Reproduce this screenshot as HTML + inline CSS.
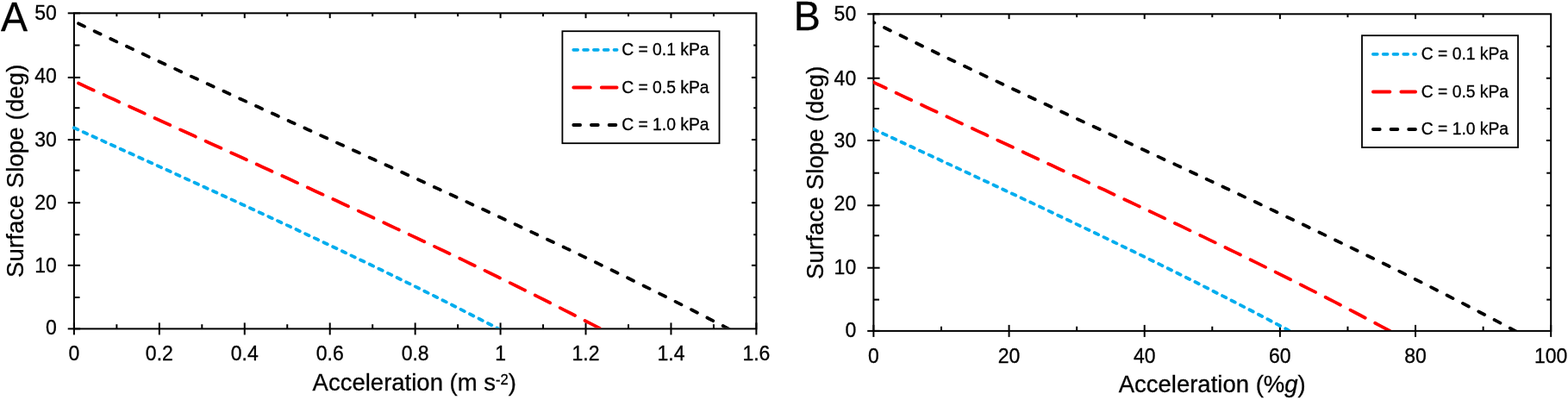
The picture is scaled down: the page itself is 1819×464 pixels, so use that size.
<!DOCTYPE html>
<html><head><meta charset="utf-8"><title>Surface slope vs acceleration</title>
<style>html,body{margin:0;padding:0;background:#fff;}body{width:1819px;height:464px;overflow:hidden;}svg{display:block;}</style>
</head><body>
<svg width="1819" height="464" viewBox="0 0 1819 464" font-family='"Liberation Sans", Arial, Helvetica, sans-serif' fill="#000" stroke="#000" stroke-width="0.3">
<rect width="1819" height="464" fill="#fff" stroke="none"/>
<g stroke="#000" stroke-width="2.0" fill="none">
<rect x="85.9" y="15.3" width="791.5" height="366.09999999999997"/>
<line x1="78.7" y1="381.40" x2="93.10000000000001" y2="381.40"/>
<line x1="85.9" y1="345.00" x2="92.5" y2="345.00"/>
<line x1="874.1999999999999" y1="345.00" x2="877.4" y2="345.00"/>
<line x1="78.7" y1="307.80" x2="93.10000000000001" y2="307.80"/>
<line x1="871.9" y1="307.80" x2="877.4" y2="307.80"/>
<line x1="85.9" y1="272.20" x2="92.5" y2="272.20"/>
<line x1="874.1999999999999" y1="272.20" x2="877.4" y2="272.20"/>
<line x1="78.7" y1="235.20" x2="93.10000000000001" y2="235.20"/>
<line x1="871.9" y1="235.20" x2="877.4" y2="235.20"/>
<line x1="85.9" y1="197.60" x2="92.5" y2="197.60"/>
<line x1="874.1999999999999" y1="197.60" x2="877.4" y2="197.60"/>
<line x1="78.7" y1="162.10" x2="93.10000000000001" y2="162.10"/>
<line x1="871.9" y1="162.10" x2="877.4" y2="162.10"/>
<line x1="85.9" y1="125.20" x2="92.5" y2="125.20"/>
<line x1="874.1999999999999" y1="125.20" x2="877.4" y2="125.20"/>
<line x1="78.7" y1="89.90" x2="93.10000000000001" y2="89.90"/>
<line x1="871.9" y1="89.90" x2="877.4" y2="89.90"/>
<line x1="85.9" y1="52.50" x2="92.5" y2="52.50"/>
<line x1="874.1999999999999" y1="52.50" x2="877.4" y2="52.50"/>
<line x1="78.7" y1="15.30" x2="93.10000000000001" y2="15.30"/>
<line x1="85.90" y1="374.4" x2="85.90" y2="388.4"/>
<line x1="135.37" y1="376.2" x2="135.37" y2="381.4"/>
<line x1="135.37" y1="15.3" x2="135.37" y2="19.1"/>
<line x1="184.84" y1="374.4" x2="184.84" y2="388.4"/>
<line x1="184.84" y1="15.3" x2="184.84" y2="21.1"/>
<line x1="234.31" y1="376.2" x2="234.31" y2="381.4"/>
<line x1="234.31" y1="15.3" x2="234.31" y2="19.1"/>
<line x1="283.77" y1="374.4" x2="283.77" y2="388.4"/>
<line x1="283.77" y1="15.3" x2="283.77" y2="21.1"/>
<line x1="333.24" y1="376.2" x2="333.24" y2="381.4"/>
<line x1="333.24" y1="15.3" x2="333.24" y2="19.1"/>
<line x1="382.71" y1="374.4" x2="382.71" y2="388.4"/>
<line x1="382.71" y1="15.3" x2="382.71" y2="21.1"/>
<line x1="432.18" y1="376.2" x2="432.18" y2="381.4"/>
<line x1="432.18" y1="15.3" x2="432.18" y2="19.1"/>
<line x1="481.65" y1="374.4" x2="481.65" y2="388.4"/>
<line x1="481.65" y1="15.3" x2="481.65" y2="21.1"/>
<line x1="531.12" y1="376.2" x2="531.12" y2="381.4"/>
<line x1="531.12" y1="15.3" x2="531.12" y2="19.1"/>
<line x1="580.59" y1="374.4" x2="580.59" y2="388.4"/>
<line x1="580.59" y1="15.3" x2="580.59" y2="21.1"/>
<line x1="630.06" y1="376.2" x2="630.06" y2="381.4"/>
<line x1="630.06" y1="15.3" x2="630.06" y2="19.1"/>
<line x1="679.53" y1="374.4" x2="679.53" y2="388.4"/>
<line x1="679.53" y1="15.3" x2="679.53" y2="21.1"/>
<line x1="728.99" y1="376.2" x2="728.99" y2="381.4"/>
<line x1="728.99" y1="15.3" x2="728.99" y2="19.1"/>
<line x1="778.46" y1="374.4" x2="778.46" y2="388.4"/>
<line x1="778.46" y1="15.3" x2="778.46" y2="21.1"/>
<line x1="827.93" y1="376.2" x2="827.93" y2="381.4"/>
<line x1="827.93" y1="15.3" x2="827.93" y2="19.1"/>
<line x1="877.40" y1="374.4" x2="877.40" y2="388.4"/>
</g>
<clipPath id="clipA"><rect x="83.9" y="15.3" width="793.5" height="365.2"/></clipPath>
<g clip-path="url(#clipA)" fill="none" stroke-linecap="round" stroke-linejoin="round">
<path d="M85.9 148.3 L92.2 151.1 L98.5 154.0 L104.7 156.8 L111.0 159.7 L117.3 162.5 L123.6 165.4 L129.8 168.2 L136.1 171.1 L142.4 173.9 L148.7 176.8 L155.0 179.6 L161.2 182.5 L167.5 185.3 L173.8 188.2 L180.1 191.0 L186.3 193.9 L192.6 196.7 L198.9 199.6 L205.2 202.4 L211.4 205.3 L217.7 208.2 L224.0 211.0 L230.3 213.9 L236.6 216.8 L242.8 219.6 L249.1 222.5 L255.4 225.4 L261.7 228.3 L267.9 231.1 L274.2 234.0 L280.5 236.9 L286.8 239.8 L293.1 242.7 L299.3 245.6 L305.6 248.5 L311.9 251.4 L318.2 254.3 L324.4 257.3 L330.7 260.2 L337.0 263.1 L343.3 266.0 L349.5 269.0 L355.8 271.9 L362.1 274.9 L368.4 277.8 L374.7 280.8 L380.9 283.8 L387.2 286.7 L393.5 289.7 L399.8 292.7 L406.0 295.7 L412.3 298.7 L418.6 301.7 L424.9 304.7 L431.2 307.7 L437.4 310.8 L443.7 313.8 L450.0 316.9 L456.3 319.9 L462.5 323.0 L468.8 326.1 L475.1 329.1 L481.4 332.2 L487.6 335.3 L493.9 338.5 L500.2 341.6 L506.5 344.7 L512.8 347.9 L519.0 351.0 L525.3 354.2 L531.6 357.4 L537.9 360.6 L544.1 363.8 L550.4 367.0 L556.7 370.2 L563.0 373.5 L569.3 376.7 L575.5 380.0 L581.8 383.3 L588.1 386.6" stroke="#00ADEE" stroke-width="3.8" stroke-dasharray="4.85 6.95" stroke-dashoffset="0"/>
<path d="M85.9 94.2 L93.7 97.8 L101.5 101.4 L109.3 104.9 L117.1 108.5 L124.8 112.1 L132.6 115.6 L140.4 119.2 L148.2 122.7 L156.0 126.3 L163.8 129.8 L171.6 133.4 L179.4 136.9 L187.2 140.4 L195.0 144.0 L202.7 147.5 L210.5 151.0 L218.3 154.6 L226.1 158.1 L233.9 161.6 L241.7 165.2 L249.5 168.7 L257.3 172.2 L265.1 175.8 L272.8 179.3 L280.6 182.8 L288.4 186.4 L296.2 189.9 L304.0 193.4 L311.8 197.0 L319.6 200.5 L327.4 204.1 L335.2 207.6 L343.0 211.2 L350.7 214.7 L358.5 218.3 L366.3 221.9 L374.1 225.4 L381.9 229.0 L389.7 232.6 L397.5 236.2 L405.3 239.8 L413.1 243.4 L420.8 247.0 L428.6 250.6 L436.4 254.2 L444.2 257.8 L452.0 261.4 L459.8 265.1 L467.6 268.7 L475.4 272.4 L483.2 276.0 L491.0 279.7 L498.7 283.4 L506.5 287.1 L514.3 290.8 L522.1 294.5 L529.9 298.2 L537.7 301.9 L545.5 305.7 L553.3 309.4 L561.1 313.2 L568.9 317.0 L576.6 320.8 L584.4 324.6 L592.2 328.4 L600.0 332.3 L607.8 336.1 L615.6 340.0 L623.4 343.9 L631.2 347.8 L639.0 351.7 L646.7 355.6 L654.5 359.6 L662.3 363.5 L670.1 367.5 L677.9 371.6 L685.7 375.6 L693.5 379.6 L701.3 383.7 L709.1 387.8" stroke="#FF0000" stroke-width="3.8" stroke-dasharray="19.50 12.95" stroke-dashoffset="26.85"/>
<path d="M85.9 24.9 L95.6 29.5 L105.3 34.1 L114.9 38.7 L124.6 43.3 L134.3 47.9 L144.0 52.4 L153.7 56.9 L163.3 61.5 L173.0 66.0 L182.7 70.5 L192.4 75.0 L202.1 79.4 L211.7 83.9 L221.4 88.4 L231.1 92.8 L240.8 97.3 L250.5 101.7 L260.1 106.1 L269.8 110.6 L279.5 115.0 L289.2 119.4 L298.9 123.8 L308.5 128.2 L318.2 132.6 L327.9 137.0 L337.6 141.4 L347.3 145.8 L356.9 150.2 L366.6 154.6 L376.3 159.0 L386.0 163.4 L395.7 167.7 L405.3 172.1 L415.0 176.5 L424.7 180.9 L434.4 185.3 L444.1 189.7 L453.7 194.1 L463.4 198.5 L473.1 202.9 L482.8 207.3 L492.5 211.7 L502.1 216.2 L511.8 220.6 L521.5 225.0 L531.2 229.5 L540.9 233.9 L550.5 238.4 L560.2 242.8 L569.9 247.3 L579.6 251.8 L589.2 256.3 L598.9 260.8 L608.6 265.3 L618.3 269.9 L628.0 274.4 L637.6 279.0 L647.3 283.5 L657.0 288.1 L666.7 292.7 L676.4 297.4 L686.0 302.0 L695.7 306.6 L705.4 311.3 L715.1 316.0 L724.8 320.7 L734.4 325.5 L744.1 330.2 L753.8 335.0 L763.5 339.8 L773.2 344.6 L782.8 349.5 L792.5 354.4 L802.2 359.3 L811.9 364.2 L821.6 369.2 L831.2 374.2 L840.9 379.2 L850.6 384.3 L860.3 389.4" stroke="#000000" stroke-width="3.8" stroke-dasharray="7.80 12.85" stroke-dashoffset="15.05"/>
</g>
<text transform="translate(65.80,387.80) scale(1,1.0)" font-size="23.0" text-anchor="end" >0</text>
<text transform="translate(65.80,315.50) scale(1,1.0)" font-size="23.0" text-anchor="end" >10</text>
<text transform="translate(65.80,242.95) scale(1,1.0)" font-size="23.0" text-anchor="end" >20</text>
<text transform="translate(65.80,170.35) scale(1,1.0)" font-size="23.0" text-anchor="end" >30</text>
<text transform="translate(65.80,95.50) scale(1,1.0)" font-size="23.0" text-anchor="end" >40</text>
<text transform="translate(65.80,22.50) scale(1,1.0)" font-size="23.0" text-anchor="end" >50</text>
<text transform="translate(85.90,417.70) scale(1,1.0)" font-size="23.0" text-anchor="middle" >0</text>
<text transform="translate(184.84,417.70) scale(1,1.0)" font-size="23.0" text-anchor="middle" >0.2</text>
<text transform="translate(283.77,417.70) scale(1,1.0)" font-size="23.0" text-anchor="middle" >0.4</text>
<text transform="translate(382.71,417.70) scale(1,1.0)" font-size="23.0" text-anchor="middle" >0.6</text>
<text transform="translate(481.65,417.70) scale(1,1.0)" font-size="23.0" text-anchor="middle" >0.8</text>
<text transform="translate(580.59,417.70) scale(1,1.0)" font-size="23.0" text-anchor="middle" >1</text>
<text transform="translate(679.53,417.70) scale(1,1.0)" font-size="23.0" text-anchor="middle" >1.2</text>
<text transform="translate(778.46,417.70) scale(1,1.0)" font-size="23.0" text-anchor="middle" >1.4</text>
<text transform="translate(877.40,417.70) scale(1,1.0)" font-size="23.0" text-anchor="middle" >1.6</text>
<text transform="translate(1.00,35.70) scale(1,1.04)" font-size="46.5" text-anchor="start" >A</text>
<text transform="translate(27.20,198.30) rotate(-90) scale(1,1.0)" font-size="27.5" text-anchor="middle" textLength="247.5" lengthAdjust="spacing">Surface Slope (deg)</text>
<text transform="translate(480.80,453.40) scale(1,1.0)" font-size="27.5" text-anchor="middle" >Acceleration (m s<tspan font-size="16.6" dy="-7.4">-2</tspan><tspan dy="7.4">)</tspan></text>
<rect x="652.4" y="36.2" width="182.10000000000002" height="130.0" fill="#fff" stroke="#000" stroke-width="1.8"/>
<line x1="665.30" y1="57.8" x2="715.60" y2="57.8" stroke="#00ADEE" stroke-width="3.8" stroke-dasharray="4.85 6.95" stroke-linecap="round" fill="none"/>
<text transform="translate(721.20,64.20) scale(1,1.04)" font-size="19.3" text-anchor="start" >C = 0.1 kPa</text>
<line x1="665.30" y1="101.5" x2="715.60" y2="101.5" stroke="#FF0000" stroke-width="3.8" stroke-dasharray="19.50 12.95" stroke-linecap="round" fill="none"/>
<text transform="translate(721.20,107.90) scale(1,1.04)" font-size="19.3" text-anchor="start" >C = 0.5 kPa</text>
<line x1="665.30" y1="145" x2="715.60" y2="145" stroke="#000000" stroke-width="3.8" stroke-dasharray="7.80 12.85" stroke-linecap="round" fill="none"/>
<text transform="translate(721.20,151.40) scale(1,1.04)" font-size="19.3" text-anchor="start" >C = 1.0 kPa</text>
<g stroke="#000" stroke-width="2.0" fill="none">
<rect x="1013.4" y="16.3" width="785.8000000000001" height="367.59999999999997"/>
<line x1="1006.1999999999999" y1="383.90" x2="1020.6" y2="383.90"/>
<line x1="1013.4" y1="347.60" x2="1020.0" y2="347.60"/>
<line x1="1794.2" y1="347.60" x2="1799.2" y2="347.60"/>
<line x1="1006.1999999999999" y1="310.70" x2="1020.6" y2="310.70"/>
<line x1="1793.8" y1="310.70" x2="1799.2" y2="310.70"/>
<line x1="1013.4" y1="273.30" x2="1020.0" y2="273.30"/>
<line x1="1794.2" y1="273.30" x2="1799.2" y2="273.30"/>
<line x1="1006.1999999999999" y1="238.30" x2="1020.6" y2="238.30"/>
<line x1="1793.8" y1="238.30" x2="1799.2" y2="238.30"/>
<line x1="1013.4" y1="200.70" x2="1020.0" y2="200.70"/>
<line x1="1794.2" y1="200.70" x2="1799.2" y2="200.70"/>
<line x1="1006.1999999999999" y1="162.90" x2="1020.6" y2="162.90"/>
<line x1="1793.8" y1="162.90" x2="1799.2" y2="162.90"/>
<line x1="1013.4" y1="126.00" x2="1020.0" y2="126.00"/>
<line x1="1794.2" y1="126.00" x2="1799.2" y2="126.00"/>
<line x1="1006.1999999999999" y1="90.70" x2="1020.6" y2="90.70"/>
<line x1="1793.8" y1="90.70" x2="1799.2" y2="90.70"/>
<line x1="1013.4" y1="53.80" x2="1020.0" y2="53.80"/>
<line x1="1794.2" y1="53.80" x2="1799.2" y2="53.80"/>
<line x1="1006.1999999999999" y1="16.30" x2="1020.6" y2="16.30"/>
<line x1="1013.40" y1="376.9" x2="1013.40" y2="390.9"/>
<line x1="1091.98" y1="378.7" x2="1091.98" y2="383.9"/>
<line x1="1091.98" y1="16.3" x2="1091.98" y2="20.1"/>
<line x1="1170.56" y1="376.9" x2="1170.56" y2="390.9"/>
<line x1="1170.56" y1="16.3" x2="1170.56" y2="22.1"/>
<line x1="1249.14" y1="378.7" x2="1249.14" y2="383.9"/>
<line x1="1249.14" y1="16.3" x2="1249.14" y2="20.1"/>
<line x1="1327.72" y1="376.9" x2="1327.72" y2="390.9"/>
<line x1="1327.72" y1="16.3" x2="1327.72" y2="22.1"/>
<line x1="1406.30" y1="378.7" x2="1406.30" y2="383.9"/>
<line x1="1406.30" y1="16.3" x2="1406.30" y2="20.1"/>
<line x1="1484.88" y1="376.9" x2="1484.88" y2="390.9"/>
<line x1="1484.88" y1="16.3" x2="1484.88" y2="22.1"/>
<line x1="1563.46" y1="378.7" x2="1563.46" y2="383.9"/>
<line x1="1563.46" y1="16.3" x2="1563.46" y2="20.1"/>
<line x1="1642.04" y1="376.9" x2="1642.04" y2="390.9"/>
<line x1="1642.04" y1="16.3" x2="1642.04" y2="22.1"/>
<line x1="1720.62" y1="378.7" x2="1720.62" y2="383.9"/>
<line x1="1720.62" y1="16.3" x2="1720.62" y2="20.1"/>
<line x1="1799.20" y1="376.9" x2="1799.20" y2="390.9"/>
</g>
<clipPath id="clipB"><rect x="1012.9" y="16.3" width="786.3000000000001" height="366.7"/></clipPath>
<g clip-path="url(#clipB)" fill="none" stroke-linecap="round" stroke-linejoin="round">
<path d="M1013.4 149.8 L1019.6 152.7 L1025.7 155.6 L1031.9 158.4 L1038.0 161.3 L1044.2 164.1 L1050.3 167.0 L1056.5 169.8 L1062.6 172.7 L1068.8 175.6 L1075.0 178.4 L1081.1 181.3 L1087.3 184.1 L1093.4 187.0 L1099.6 189.9 L1105.7 192.7 L1111.9 195.6 L1118.0 198.5 L1124.2 201.3 L1130.3 204.2 L1136.5 207.1 L1142.7 209.9 L1148.8 212.8 L1155.0 215.7 L1161.1 218.6 L1167.3 221.5 L1173.4 224.4 L1179.6 227.2 L1185.7 230.1 L1191.9 233.0 L1198.1 235.9 L1204.2 238.8 L1210.4 241.7 L1216.5 244.6 L1222.7 247.6 L1228.8 250.5 L1235.0 253.4 L1241.1 256.3 L1247.3 259.3 L1253.5 262.2 L1259.6 265.1 L1265.8 268.1 L1271.9 271.0 L1278.1 274.0 L1284.2 276.9 L1290.4 279.9 L1296.5 282.9 L1302.7 285.9 L1308.8 288.9 L1315.0 291.8 L1321.2 294.8 L1327.3 297.8 L1333.5 300.9 L1339.6 303.9 L1345.8 306.9 L1351.9 309.9 L1358.1 313.0 L1364.2 316.0 L1370.4 319.1 L1376.6 322.2 L1382.7 325.2 L1388.9 328.3 L1395.0 331.4 L1401.2 334.5 L1407.3 337.7 L1413.5 340.8 L1419.6 343.9 L1425.8 347.1 L1431.9 350.2 L1438.1 353.4 L1444.3 356.6 L1450.4 359.8 L1456.6 363.0 L1462.7 366.2 L1468.9 369.4 L1475.0 372.7 L1481.2 375.9 L1487.3 379.2 L1493.5 382.5 L1499.7 385.8 L1505.8 389.1" stroke="#00ADEE" stroke-width="3.8" stroke-dasharray="4.85 6.95" stroke-dashoffset="0"/>
<path d="M1013.4 95.6 L1021.0 99.1 L1028.7 102.7 L1036.3 106.3 L1044.0 109.9 L1051.6 113.5 L1059.2 117.0 L1066.9 120.6 L1074.5 124.2 L1082.1 127.7 L1089.8 131.3 L1097.4 134.8 L1105.1 138.4 L1112.7 141.9 L1120.3 145.5 L1128.0 149.0 L1135.6 152.6 L1143.2 156.1 L1150.9 159.7 L1158.5 163.2 L1166.2 166.8 L1173.8 170.3 L1181.4 173.9 L1189.1 177.4 L1196.7 181.0 L1204.3 184.5 L1212.0 188.1 L1219.6 191.6 L1227.3 195.2 L1234.9 198.7 L1242.5 202.3 L1250.2 205.8 L1257.8 209.4 L1265.5 213.0 L1273.1 216.6 L1280.7 220.1 L1288.4 223.7 L1296.0 227.3 L1303.6 230.9 L1311.3 234.5 L1318.9 238.1 L1326.6 241.7 L1334.2 245.3 L1341.8 248.9 L1349.5 252.5 L1357.1 256.2 L1364.7 259.8 L1372.4 263.4 L1380.0 267.1 L1387.7 270.8 L1395.3 274.4 L1402.9 278.1 L1410.6 281.8 L1418.2 285.5 L1425.8 289.2 L1433.5 292.9 L1441.1 296.6 L1448.8 300.4 L1456.4 304.1 L1464.0 307.9 L1471.7 311.6 L1479.3 315.4 L1487.0 319.2 L1494.6 323.0 L1502.2 326.9 L1509.9 330.7 L1517.5 334.6 L1525.1 338.4 L1532.8 342.3 L1540.4 346.2 L1548.1 350.1 L1555.7 354.1 L1563.3 358.0 L1571.0 362.0 L1578.6 366.0 L1586.2 370.0 L1593.9 374.0 L1601.5 378.1 L1609.2 382.1 L1616.8 386.2 L1624.4 390.4" stroke="#FF0000" stroke-width="3.8" stroke-dasharray="19.50 12.95" stroke-dashoffset="3.6"/>
<path d="M1013.4 25.9 L1022.9 30.6 L1032.4 35.2 L1041.9 39.8 L1051.4 44.4 L1060.9 49.0 L1070.3 53.6 L1079.8 58.1 L1089.3 62.7 L1098.8 67.2 L1108.3 71.7 L1117.8 76.2 L1127.3 80.7 L1136.8 85.2 L1146.3 89.7 L1155.8 94.1 L1165.3 98.6 L1174.8 103.1 L1184.2 107.5 L1193.7 112.0 L1203.2 116.4 L1212.7 120.8 L1222.2 125.3 L1231.7 129.7 L1241.2 134.1 L1250.7 138.5 L1260.2 142.9 L1269.7 147.3 L1279.2 151.7 L1288.7 156.1 L1298.1 160.6 L1307.6 165.0 L1317.1 169.4 L1326.6 173.8 L1336.1 178.2 L1345.6 182.6 L1355.1 187.0 L1364.6 191.4 L1374.1 195.8 L1383.6 200.3 L1393.1 204.7 L1402.5 209.1 L1412.0 213.5 L1421.5 218.0 L1431.0 222.4 L1440.5 226.9 L1450.0 231.4 L1459.5 235.8 L1469.0 240.3 L1478.5 244.8 L1488.0 249.3 L1497.5 253.8 L1507.0 258.3 L1516.4 262.8 L1525.9 267.4 L1535.4 271.9 L1544.9 276.5 L1554.4 281.1 L1563.9 285.6 L1573.4 290.2 L1582.9 294.9 L1592.4 299.5 L1601.9 304.2 L1611.4 308.8 L1620.9 313.5 L1630.3 318.2 L1639.8 323.0 L1649.3 327.7 L1658.8 332.5 L1668.3 337.3 L1677.8 342.1 L1687.3 347.0 L1696.8 351.8 L1706.3 356.8 L1715.8 361.7 L1725.3 366.6 L1734.8 371.6 L1744.2 376.7 L1753.7 381.7 L1763.2 386.8 L1772.7 391.9" stroke="#000000" stroke-width="3.8" stroke-dasharray="7.80 12.85" stroke-dashoffset="6.7"/>
</g>
<text transform="translate(993.20,391.15) scale(1,1.0)" font-size="23.0" text-anchor="end" >0</text>
<text transform="translate(993.20,318.30) scale(1,1.0)" font-size="23.0" text-anchor="end" >10</text>
<text transform="translate(993.20,243.56) scale(1,1.0)" font-size="23.0" text-anchor="end" >20</text>
<text transform="translate(993.20,170.96) scale(1,1.0)" font-size="23.0" text-anchor="end" >30</text>
<text transform="translate(993.20,98.56) scale(1,1.0)" font-size="23.0" text-anchor="end" >40</text>
<text transform="translate(993.20,23.56) scale(1,1.0)" font-size="23.0" text-anchor="end" >50</text>
<text transform="translate(1013.40,420.50) scale(1,1.0)" font-size="23.0" text-anchor="middle" >0</text>
<text transform="translate(1170.56,420.50) scale(1,1.0)" font-size="23.0" text-anchor="middle" >20</text>
<text transform="translate(1327.72,420.50) scale(1,1.0)" font-size="23.0" text-anchor="middle" >40</text>
<text transform="translate(1484.88,420.50) scale(1,1.0)" font-size="23.0" text-anchor="middle" >60</text>
<text transform="translate(1642.04,420.50) scale(1,1.0)" font-size="23.0" text-anchor="middle" >80</text>
<text transform="translate(1799.20,420.50) scale(1,1.0)" font-size="23.0" text-anchor="middle" >100</text>
<text transform="translate(920.70,35.30) scale(1,1.04)" font-size="46.5" text-anchor="start" >B</text>
<text transform="translate(954.70,200.30) rotate(-90) scale(1,1.0)" font-size="27.5" text-anchor="middle" textLength="247.5" lengthAdjust="spacing">Surface Slope (deg)</text>
<text transform="translate(1406.20,455.40) scale(1,1.0)" font-size="27.5" text-anchor="middle" >Acceleration (%<tspan font-style="italic">g</tspan>)</text>
<rect x="1580.0" y="41.2" width="181.0" height="129.8" fill="#fff" stroke="#000" stroke-width="1.8"/>
<line x1="1592.90" y1="62.8" x2="1642.10" y2="62.8" stroke="#00ADEE" stroke-width="3.8" stroke-dasharray="4.85 6.95" stroke-linecap="round" fill="none"/>
<text transform="translate(1648.80,69.20) scale(1,1.04)" font-size="19.3" text-anchor="start" >C = 0.1 kPa</text>
<line x1="1592.90" y1="106.5" x2="1642.10" y2="106.5" stroke="#FF0000" stroke-width="3.8" stroke-dasharray="19.50 12.95" stroke-linecap="round" fill="none"/>
<text transform="translate(1648.80,112.90) scale(1,1.04)" font-size="19.3" text-anchor="start" >C = 0.5 kPa</text>
<line x1="1592.90" y1="150" x2="1642.10" y2="150" stroke="#000000" stroke-width="3.8" stroke-dasharray="7.80 12.85" stroke-linecap="round" fill="none"/>
<text transform="translate(1648.80,156.40) scale(1,1.04)" font-size="19.3" text-anchor="start" >C = 1.0 kPa</text>
</svg>
</body></html>
